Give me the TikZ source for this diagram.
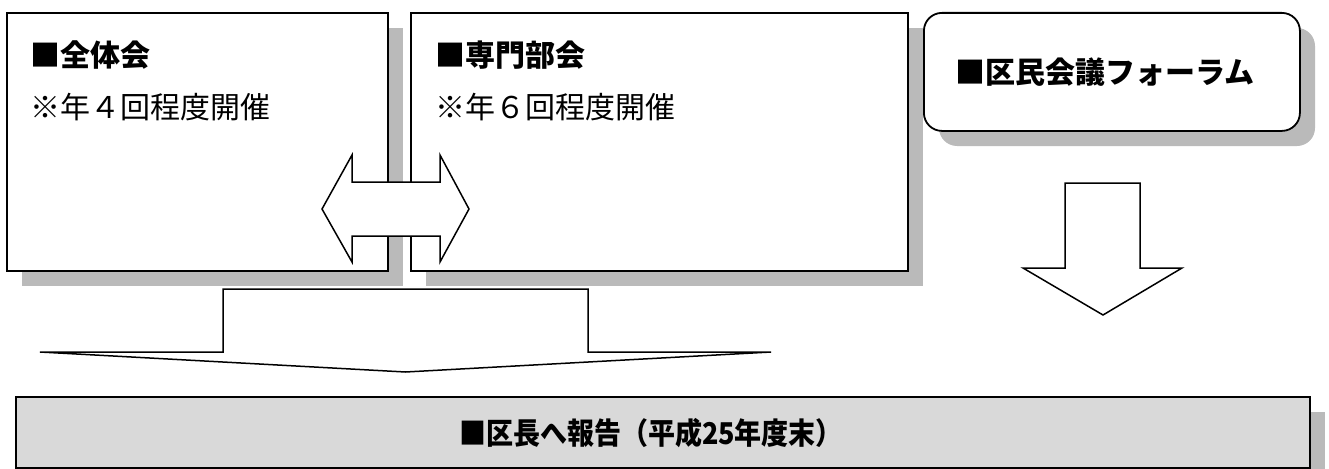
\documentclass[tikz,border=0pt]{standalone}
\usepackage{fontspec}
\newfontfamily\gothic{Noto Sans CJK JP}
\newfontfamily\gothicnarrow{Noto Sans CJK JP}[FakeStretch=0.9]
\begin{document}
\begin{tikzpicture}[x=1pt,y=-1pt,
  box/.style={draw=black, line width=1.8pt, fill=white, inner sep=0pt},
  shadowfill/.style={fill=black!27},
  blockarrow/.style={draw=black, line width=1.5pt, fill=white, line join=miter},
  title/.style={font=\gothic\bfseries\fontsize{30}{36}\selectfont, anchor=west, inner sep=0pt},
  sub/.style={font=\gothic\fontsize{30}{36}\selectfont, anchor=west, inner sep=0pt}]
\useasboundingbox (0,0) rectangle (1329,468);
% shadows
\fill[shadowfill] (22,28) rectangle (403,286);
\fill[shadowfill] (426,28) rectangle (923,286);
\fill[shadowfill, rounded corners=18pt] (939,28) rectangle (1315,146);
\fill[shadowfill] (31,412) rectangle (1325,483);
% boxes
\node[box, minimum width=381pt, minimum height=258pt, anchor=north west] (zentai) at (6,12) {};
\node[box, minimum width=497pt, minimum height=258pt, anchor=north west] (senmon) at (410,12) {};
\node[box, rounded corners=18pt, minimum width=376pt, minimum height=118pt, anchor=north west] (forum) at (923,12) {};
\node[box, fill=black!15, minimum width=1294pt, minimum height=71pt, anchor=north west] (report) at (15,396) {};
% texts
\node[title] (zt) at (30,55) {■全体会};
\node[sub] (zs) at (30,107) {※年４回程度開催};
\node[title] (st) at (435,55) {■専門部会};
\node[sub] (ss) at (435,107) {※年６回程度開催};
\node[title, anchor=center] (ft) at (1105,72) {■区民会議フォーラム};
\node[title, anchor=center, font=\gothicnarrow\bfseries\fontsize{30}{36}\selectfont] (rt) at (651,433) {■区長へ報告（平成25年度末）};
% block arrows
\draw[blockarrow] (322,209) -- (352,155) -- (352,182) -- (440,182) -- (440,155) -- (469,209)
  -- (440,262) -- (440,236) -- (352,236) -- (352,262) -- cycle;
\draw[blockarrow] (1065,183) -- (1140,183) -- (1140,268) -- (1182,268) -- (1103,315)
  -- (1023,268) -- (1065,268) -- cycle;
\draw[blockarrow] (223,289) -- (588,289) -- (588,352) -- (771,352) -- (405.5,372)
  -- (40,352) -- (223,352) -- cycle;
\end{tikzpicture}
\end{document}
